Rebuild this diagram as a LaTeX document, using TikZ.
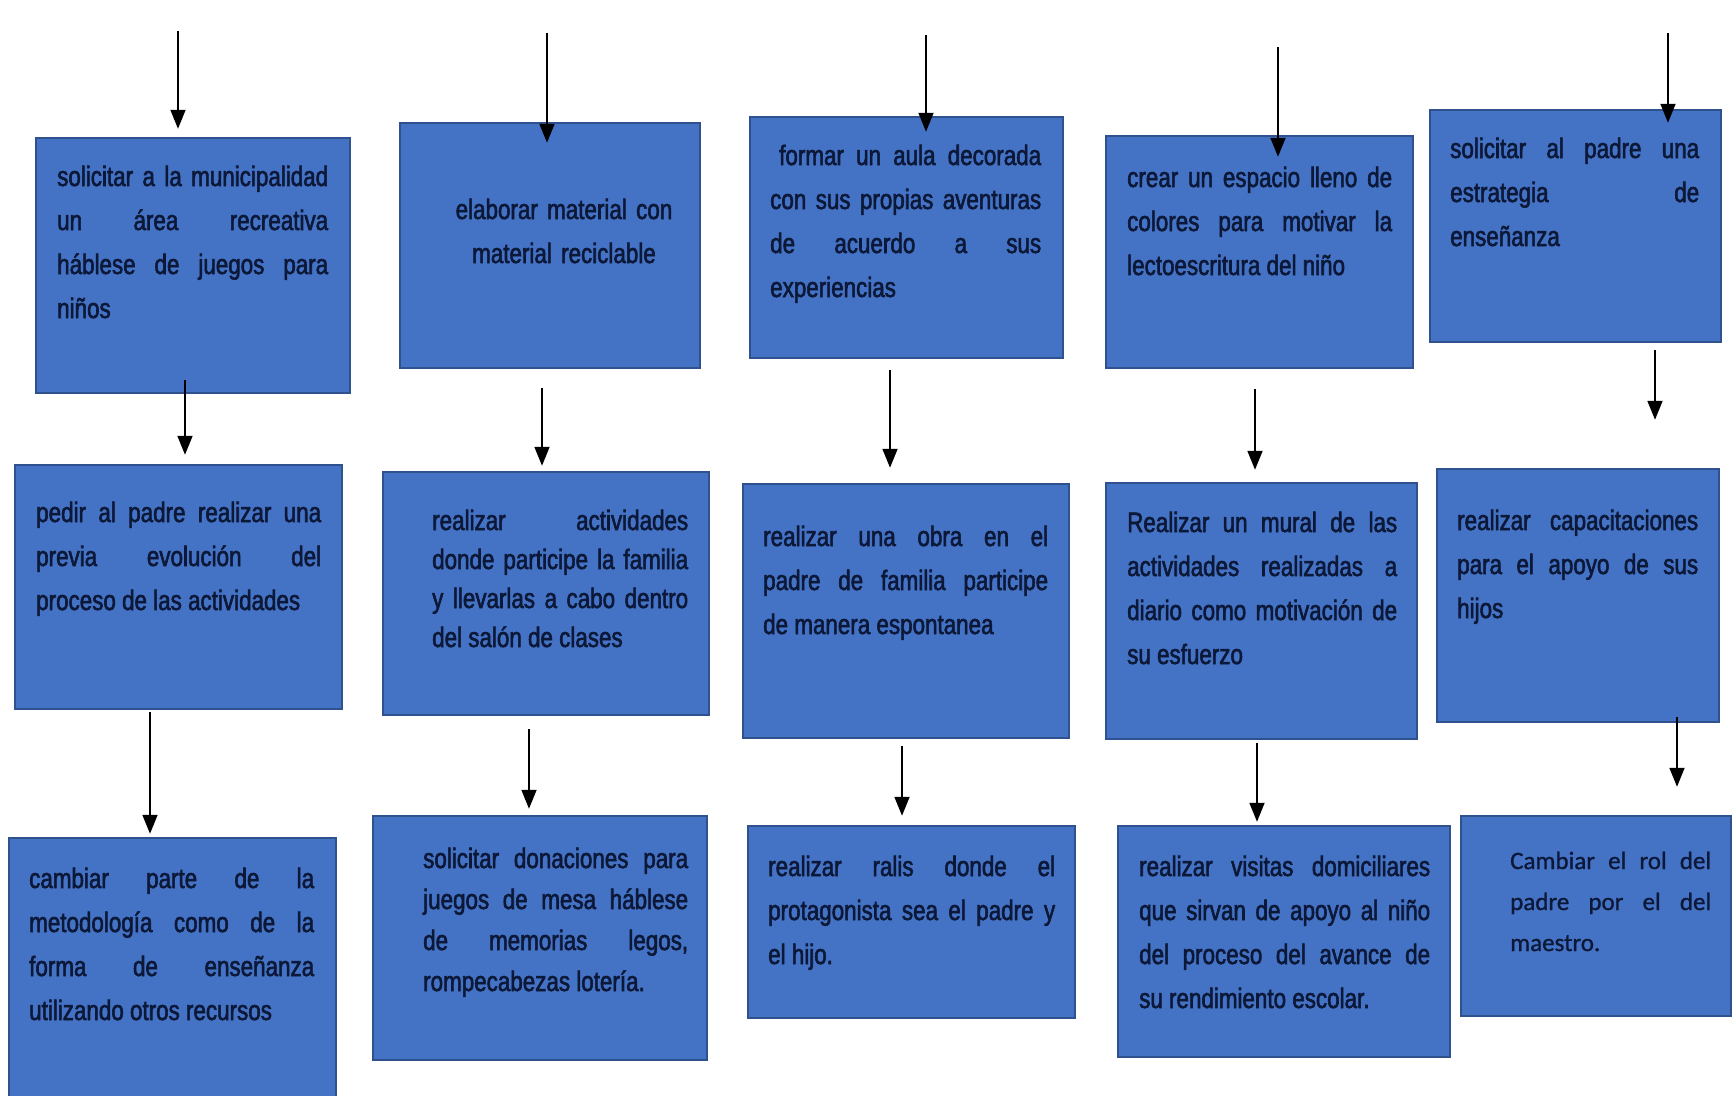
\documentclass[tikz,border=0pt]{standalone}
\usepackage{fontspec}
\setmainfont{Liberation Sans}[FakeStretch=0.80, FakeBold=2]
\newfontfamily\calibri{Carlito}[FakeBold=1]
\usepackage{tikz}
\usetikzlibrary{arrows.meta, calc}
\definecolor{azul}{HTML}{4472C4}
\definecolor{borde}{HTML}{2F528F}
\definecolor{letra}{HTML}{0C1838}
\tikzset{
  caja/.style={draw=borde, fill=azul, line width=2.5pt, shape=rectangle, inner sep=0pt},
  texto/.style={anchor=base west, inner sep=0pt, align=justify, text=letra,
    font={\fontsize{28pt}{44pt}\selectfont\tolerance=10000\hbadness=10000\hyphenpenalty=10000}},
  flecha/.style={-{Triangle[length=19pt,width=15pt]}, line width=1.8pt}}

\begin{document}
\begin{tikzpicture}[x=1pt, y=-1pt]
  \useasboundingbox (0,0) rectangle (1732,1095);
  \node[caja, minimum width=314pt, minimum height=255pt] (a1) at (193,265.5) {};
  \node[caja, minimum width=300pt, minimum height=245pt] (b1) at (550,245.5) {};
  \node[caja, minimum width=313pt, minimum height=241pt] (c1) at (906.5,237.5) {};
  \node[caja, minimum width=307pt, minimum height=232pt] (d1) at (1259.5,252) {};
  \node[caja, minimum width=291pt, minimum height=232pt] (e1) at (1575.5,226) {};
  \node[caja, minimum width=327pt, minimum height=244pt] (a2) at (178.5,587) {};
  \node[caja, minimum width=326pt, minimum height=243pt] (b2) at (546,593.5) {};
  \node[caja, minimum width=326pt, minimum height=254pt] (c2) at (906,611) {};
  \node[caja, minimum width=311pt, minimum height=256pt] (d2) at (1261.5,611) {};
  \node[caja, minimum width=282pt, minimum height=253pt] (e2) at (1578,595.5) {};
  \node[caja, minimum width=327pt, minimum height=262pt] (a3) at (172.5,969) {};
  \node[caja, minimum width=334pt, minimum height=244pt] (b3) at (540,938) {};
  \node[caja, minimum width=327pt, minimum height=192pt] (c3) at (911.5,922) {};
  \node[caja, minimum width=332pt, minimum height=231pt] (d3) at (1284,941.5) {};
  \node[caja, minimum width=270pt, minimum height=200pt] (e3) at (1596,916) {};

  \node[texto, text width=271pt] (a1t) at (57,186) {solicitar a la municipalidad\linebreak un área recreativa\linebreak háblese de juegos para\linebreak niños};
  \node[texto, anchor=base, align=center, text width=260pt] (b1t) at (564,219) {elaborar material con\\ material reciclable};
  \node[texto, text width=271pt] (c1t) at (770,165) {\hspace*{9pt}formar un aula decorada\linebreak con sus propias aventuras\linebreak de acuerdo a sus\linebreak experiencias};
  \node[texto, text width=265pt] (d1t) at (1127,187) {crear un espacio lleno de\linebreak colores para motivar la\linebreak lectoescritura del niño};
  \node[texto, text width=249pt] (e1t) at (1450,158) {solicitar al padre una\linebreak estrategia de\linebreak enseñanza};
  \node[texto, text width=285pt] (a2t) at (36,522) {pedir al padre realizar una\linebreak previa evolución del\linebreak proceso de las actividades};
  \node[texto, text width=256pt, font={\fontsize{28pt}{39pt}\selectfont\tolerance=10000\hbadness=10000}] (b2t) at (432,530) {realizar actividades\linebreak donde participe la familia\linebreak y llevarlas a cabo dentro\linebreak del salón de clases};
  \node[texto, text width=285pt] (c2t) at (763,546) {realizar una obra en el\linebreak padre de familia participe\linebreak de manera espontanea};
  \node[texto, text width=270pt] (d2t) at (1127,532) {Realizar un mural de las\linebreak actividades realizadas a\linebreak diario como motivación de\linebreak su esfuerzo};
  \node[texto, text width=241pt] (e2t) at (1457,530) {realizar capacitaciones\linebreak para el apoyo de sus\linebreak hijos};
  \node[texto, text width=285pt] (a3t) at (29,888) {cambiar parte de la\linebreak metodología como de la\linebreak forma de enseñanza\linebreak utilizando otros recursos};
  \node[texto, text width=265pt, font={\fontsize{28pt}{41pt}\selectfont\tolerance=10000\hbadness=10000}] (b3t) at (423,868) {solicitar donaciones para\linebreak juegos de mesa háblese\linebreak de memorias legos,\linebreak rompecabezas lotería.};
  \node[texto, text width=287pt] (c3t) at (768,876) {realizar ralis donde el\linebreak protagonista sea el padre y\linebreak el hijo.};
  \node[texto, text width=291pt] (d3t) at (1139,876) {realizar visitas domiciliares\linebreak que sirvan de apoyo al niño\linebreak del proceso del avance de\linebreak su rendimiento escolar.};
  \node[texto, text width=201pt, font={\calibri\fontsize{25pt}{41pt}\selectfont\tolerance=10000\hbadness=10000}] (e3t) at (1510,869) {Cambiar el rol del\linebreak padre por el del\linebreak maestro.};

  \coordinate (ta) at (178,31);
  \coordinate (tb) at (547,33);
  \coordinate (tc) at (926,35);
  \coordinate (td) at (1278,47);
  \coordinate (te) at (1668,33);
  \draw[flecha] (ta) -- ($(ta |- a1.north)+(0,-8)$);
  \draw[flecha] (tb) -- ($(tb |- b1.north)+(0,21)$);
  \draw[flecha] (tc) -- ($(tc |- c1.north)+(0,16)$);
  \draw[flecha] (td) -- ($(td |- d1.north)+(0,22)$);
  \draw[flecha] (te) -- ($(te |- e1.north)+(0,14)$);

  \draw[flecha] ($(a1.south)+(-8,-14)$) -- ($(a2.north)+(6.5,-9)$);
  \draw[flecha] ($(b1.south)+(-8,19)$) -- ($(b2.north)+(-4,-5)$);
  \draw[flecha] ($(c1.south)+(-16.5,11)$) -- ($(c2.north)+(-16,-15)$);
  \draw[flecha] ($(d1.south)+(-4.5,20)$) -- ($(d2.north)+(-6.5,-12)$);
  \draw[flecha] ($(e1.south)+(79.5,7)$) -- ($(e2.north)+(77,-48)$);

  \draw[flecha] ($(a2.south)+(-28.5,2)$) -- ($(a3.north)+(-22.5,-3)$);
  \draw[flecha] ($(b2.south)+(-17,13)$) -- ($(b3.north)+(-11,-6)$);
  \draw[flecha] ($(c2.south)+(-4,7)$) -- ($(c3.north)+(-9.5,-9)$);
  \draw[flecha] ($(d2.south)+(-4.5,3)$) -- ($(d3.north)+(-27,-3)$);
  \draw[flecha] ($(e2.south)+(99,-6)$) -- ($(e3.north)+(81,-28)$);
\end{tikzpicture}
\end{document}
